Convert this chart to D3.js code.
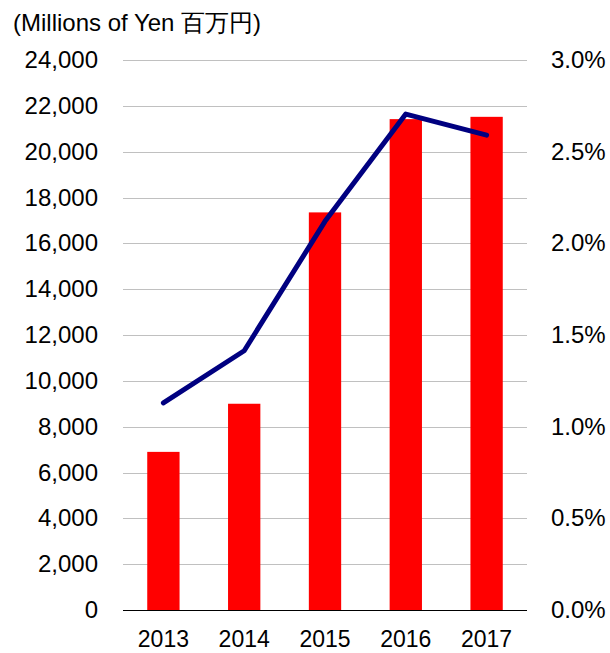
<!DOCTYPE html>
<html lang="en">
<head>
<meta charset="utf-8">
<style>
  body { margin: 0; background: #fff; }
  text { font-family: "Liberation Sans", Arial, sans-serif; fill: #000; }
  .grid line { stroke: #c0c0c0; stroke-width: 1px; }
</style>
</head>
<body>
<svg width="610" height="653"></svg>
<script src="https://d3js.org/d3.v7.min.js"></script>
<script>
// data
var years = ["2013", "2014", "2015", "2016", "2017"];
var sales = [6900, 9000, 17350, 21420, 21520];      // millions of yen (bars)
var ratio = [1.13, 1.414, 2.12, 2.705, 2.59];        // % (line)
var leftTicks = [0, 2000, 4000, 6000, 8000, 10000, 12000, 14000, 16000, 18000, 20000, 22000, 24000];
var rightTicks = [0, 0.5, 1.0, 1.5, 2.0, 2.5, 3.0];

var svg = d3.select("svg");
var plotLeft = 123, plotRight = 527, plotTop = 60, plotBottom = 610;

var x = d3.scaleBand().domain(years).range([plotLeft, plotRight]).paddingInner(0.6).paddingOuter(0.3);
var y = d3.scaleLinear().domain([0, 24000]).range([plotBottom, plotTop]);
var y2 = d3.scaleLinear().domain([0, 3]).range([plotBottom, plotTop]);

// gridlines
svg.append("g").attr("class", "grid")
  .selectAll("line").data(leftTicks.slice(1)).enter().append("line")
  .attr("x1", plotLeft).attr("x2", plotRight)
  .attr("y1", function (d) { return Math.round(y(d)) + 0.5; })
  .attr("y2", function (d) { return Math.round(y(d)) + 0.5; });

// bars
svg.append("g").selectAll("rect").data(sales).enter().append("rect")
  .attr("x", function (d, i) { return x(years[i]); })
  .attr("width", x.bandwidth())
  .attr("y", function (d) { return y(d); })
  .attr("height", function (d) { return plotBottom - y(d); })
  .attr("fill", "#ff0000");

// baseline
svg.append("line")
  .attr("x1", plotLeft).attr("x2", plotRight)
  .attr("y1", plotBottom + 0.5).attr("y2", plotBottom + 0.5)
  .attr("stroke", "#000").attr("stroke-width", 1);

// line series
var line = d3.line()
  .x(function (d, i) { return x(years[i]) + x.bandwidth() / 2; })
  .y(function (d) { return y2(d); });

svg.append("path").datum(ratio)
  .attr("d", line)
  .attr("fill", "none")
  .attr("stroke", "#000080")
  .attr("stroke-width", 5)
  .attr("stroke-linecap", "round")
  .attr("stroke-linejoin", "round");

// left axis labels
var fmt = d3.format(",");
svg.append("g").selectAll("text").data(leftTicks).enter().append("text")
  .attr("x", 98)
  .attr("y", function (d) { return y(d) + 8; })
  .attr("text-anchor", "end")
  .attr("font-size", 24)
  .text(function (d) { return fmt(d); });

// right axis labels
svg.append("g").selectAll("text").data(rightTicks).enter().append("text")
  .attr("x", 551)
  .attr("y", function (d) { return y2(d) + 8; })
  .attr("font-size", 24)
  .text(function (d) { return d.toFixed(1) + "%"; });

// year labels
svg.append("g").selectAll("text").data(years).enter().append("text")
  .attr("x", function (d) { return x(d) + x.bandwidth() / 2; })
  .attr("y", 647)
  .attr("text-anchor", "middle")
  .attr("font-size", 23)
  .text(function (d) { return d; });

// unit title
svg.append("text")
  .attr("x", 13).attr("y", 31)
  .attr("font-size", 24)
  .text("(Millions of Yen 百万円)");
</script>
</body>
</html>
